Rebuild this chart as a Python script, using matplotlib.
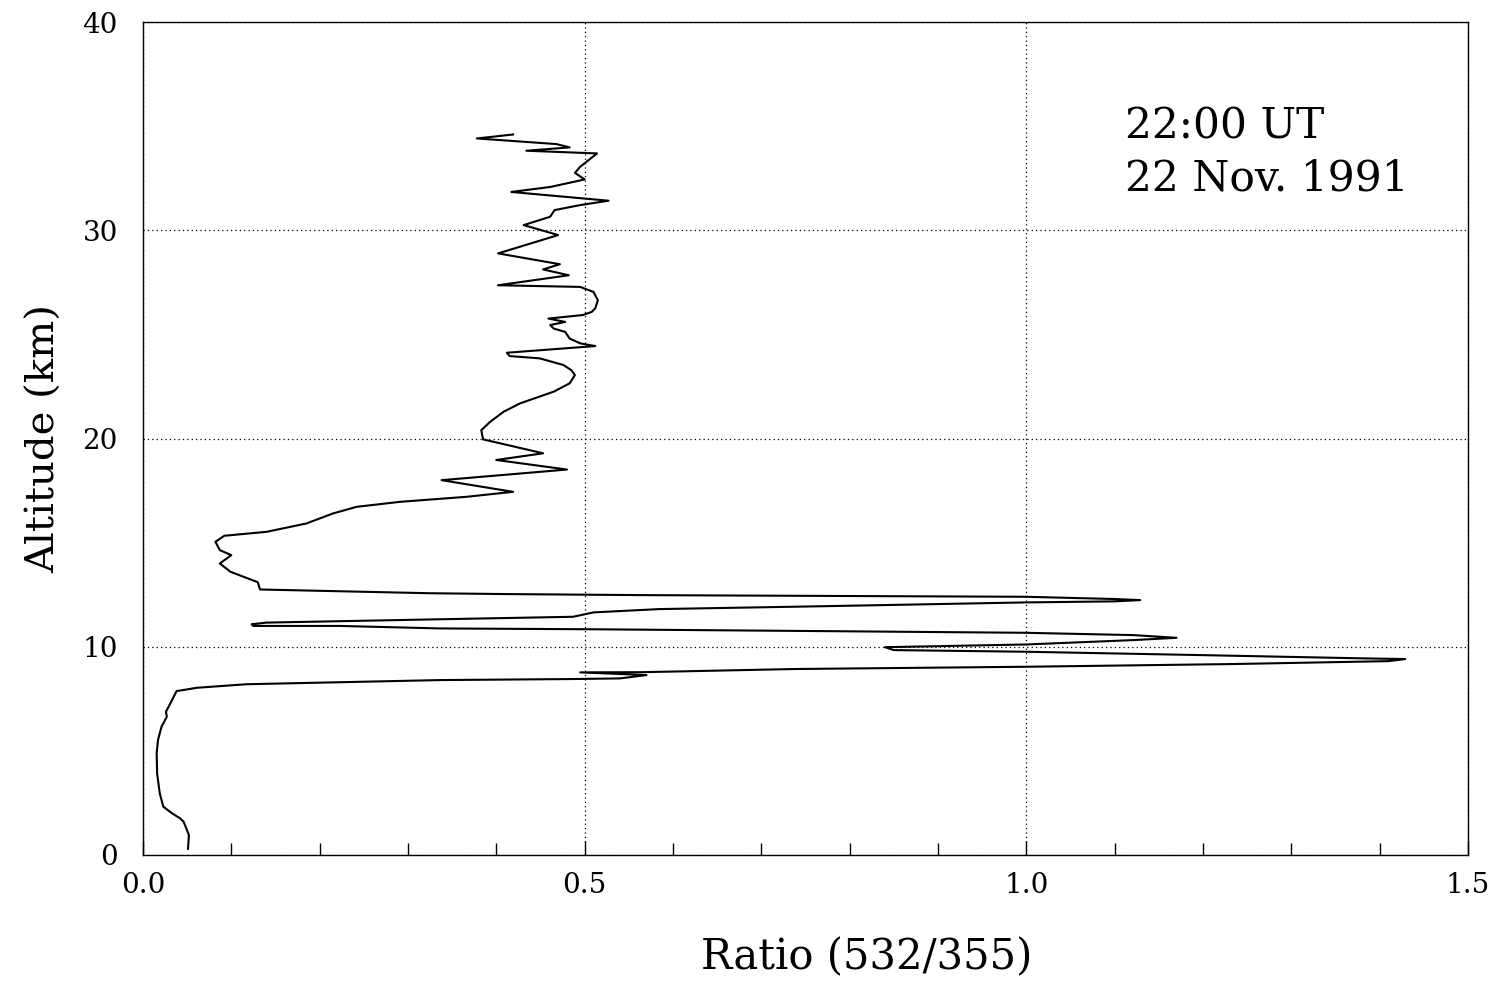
import numpy as np
import matplotlib.pyplot as plt
from matplotlib.ticker import MultipleLocator

# 532/355 colour ratio profile, listed from the ground upward
ratio = [0.051, 0.052, 0.046, 0.042, 0.033, 0.023, 0.019, 0.016, 0.0155, 0.017,
         0.021, 0.027, 0.026, 0.031, 0.038, 0.061, 0.117, 0.336, 0.487, 0.540,
         0.570, 0.495, 0.566, 0.736, 1.000, 1.234, 1.410, 1.429, 1.385, 1.197,
         1.000, 0.850, 0.840, 1.000, 1.121, 1.170, 1.121, 1.000, 0.774, 0.508,
         0.336, 0.223, 0.125, 0.123, 0.140, 0.336, 0.487, 0.510, 0.585, 0.774,
         1.000, 1.100, 1.129, 1.102, 1.000, 0.563, 0.412, 0.325, 0.1325, 0.130,
         0.099, 0.087, 0.100, 0.087, 0.082, 0.092, 0.140, 0.185, 0.215, 0.242,
         0.291, 0.366, 0.419, 0.338, 0.480, 0.400, 0.453, 0.385, 0.383, 0.393,
         0.408, 0.427, 0.465, 0.483, 0.489, 0.485, 0.476, 0.449, 0.415, 0.412,
         0.512, 0.495, 0.483, 0.478, 0.465, 0.461, 0.478, 0.459, 0.498, 0.508,
         0.512, 0.515, 0.510, 0.495, 0.402, 0.482, 0.453, 0.472, 0.402, 0.470,
         0.431, 0.461, 0.466, 0.495, 0.527, 0.417, 0.461, 0.500, 0.489, 0.495,
         0.514, 0.434, 0.483, 0.468, 0.378, 0.419]
altitude = [0.30, 0.96, 1.60, 1.76, 2.00, 2.32, 2.96, 3.92, 4.88, 5.52,
            6.16, 6.64, 6.88, 7.28, 7.87, 8.03, 8.20, 8.40, 8.45, 8.48,
            8.64, 8.77, 8.78, 8.93, 9.04, 9.17, 9.31, 9.41, 9.44, 9.60,
            9.76, 9.84, 9.98, 10.11, 10.32, 10.43, 10.56, 10.67, 10.75, 10.84,
            10.88, 11.00, 11.00, 11.08, 11.16, 11.32, 11.44, 11.65, 11.81, 11.95,
            12.13, 12.18, 12.24, 12.29, 12.40, 12.48, 12.53, 12.57, 12.75, 13.10,
            13.60, 14.00, 14.40, 14.64, 15.04, 15.33, 15.52, 15.92, 16.40, 16.72,
            16.96, 17.20, 17.44, 18.00, 18.51, 18.97, 19.29, 19.96, 20.40, 20.80,
            21.28, 21.69, 22.25, 22.65, 23.05, 23.28, 23.53, 23.85, 23.96, 24.12,
            24.44, 24.57, 24.80, 25.12, 25.28, 25.45, 25.60, 25.76, 25.93, 26.08,
            26.25, 26.64, 27.04, 27.28, 27.36, 27.84, 28.12, 28.37, 28.89, 29.77,
            30.25, 30.65, 30.97, 31.21, 31.42, 31.84, 32.08, 32.44, 32.76, 33.05,
            33.69, 33.82, 33.98, 34.14, 34.41, 34.60]

x_ticks = [0.0, 0.5, 1.0, 1.5]
x_tick_labels = ['0.0', '0.5', '1.0', '1.5']
y_ticks = [0, 10, 20, 30, 40]

plt.rcParams['font.family'] = ['DejaVu Serif']

fig = plt.figure(figsize=(15.05, 9.84), dpi=100)
ax = fig.add_axes([0.095, 0.1311, 0.8804, 0.8465])

ax.plot(ratio, altitude, color='black', lw=1.5)

ax.set_xlim(0, 1.5)
ax.set_ylim(0, 40)
ax.set_xticks(x_ticks)
ax.set_xticklabels(x_tick_labels)
ax.set_yticks(y_ticks)
ax.xaxis.set_minor_locator(MultipleLocator(0.1))
ax.tick_params(axis='both', which='both', direction='in', labelsize=20,
               colors='black', width=1.0)
ax.tick_params(axis='x', which='major', length=10, pad=12)
ax.tick_params(axis='x', which='minor', length=9)
ax.tick_params(axis='y', which='major', length=0, pad=18)
ax.grid(True, which='major', linestyle=(0, (1, 2.5)), color='black', lw=0.9)

for s in ax.spines.values():
    s.set_linewidth(1.0)

ax.set_xlabel('Ratio (532/355)', fontsize=30)
ax.xaxis.set_label_coords(0.546, -0.098)
ax.set_ylabel('Altitude (km)', fontsize=29, labelpad=14)

ax.text(0.741, 0.9, '22:00 UT\n22 Nov. 1991', transform=ax.transAxes,
        fontsize=30.5, va='top', ha='left', linespacing=1.3)

fig.savefig('out.png', dpi=100, facecolor='white')
